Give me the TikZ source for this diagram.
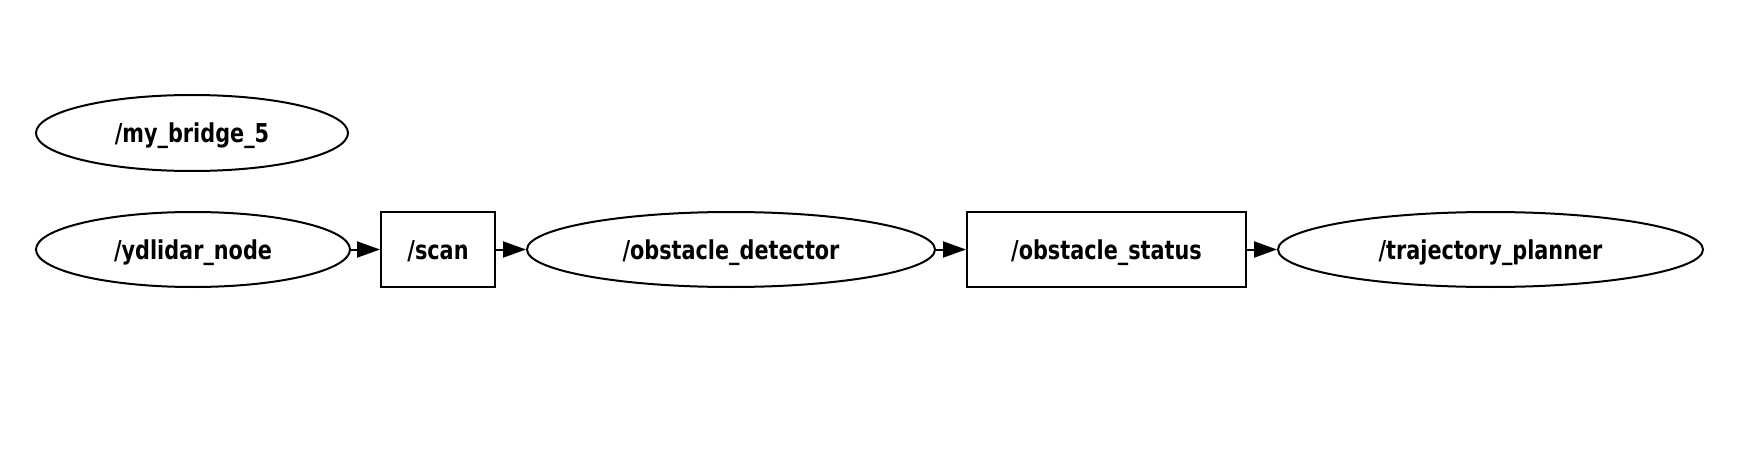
\documentclass[tikz,border=0pt]{standalone}
\usepackage{fontspec}
\setmainfont{DejaVu Sans}[FakeStretch=0.8]
\usetikzlibrary{shapes.geometric,arrows.meta}
\tikzset{
  base/.style={draw=black,line width=2pt,inner sep=0pt,
    font=\bfseries\fontsize{26}{30}\selectfont,text height=20pt,text depth=0pt},
  nodeell/.style={base,ellipse},
  topicbox/.style={base,rectangle},
  conn/.style={line width=2pt,-{Triangle[length=23pt,width=16pt]}}
}
\begin{document}
\begin{tikzpicture}[x=1pt,y=-1pt]
\useasboundingbox (0,0) rectangle (1758,473);
\node[nodeell,minimum width=312pt,minimum height=76pt] (bridge) at (192,133) {/my\_bridge\_5};
\node[nodeell,minimum width=314pt,minimum height=75pt] (lidar) at (193,249.5) {/ydlidar\_node};
\node[topicbox,minimum width=114pt,minimum height=75pt] (scan) at (438,249.5) {/scan};
\node[nodeell,minimum width=408pt,minimum height=75pt] (det) at (731,249.5) {/obstacle\_detector};
\node[topicbox,minimum width=279pt,minimum height=75pt] (status) at (1106.5,249.5) {/obstacle\_status};
\node[nodeell,minimum width=425pt,minimum height=75pt] (traj) at (1490.5,249.5) {/trajectory\_planner};
\draw[conn] (lidar) -- (scan);
\draw[conn] (scan) -- (det);
\draw[conn] (det) -- (status);
\draw[conn] (status) -- (traj);
\end{tikzpicture}
\end{document}
